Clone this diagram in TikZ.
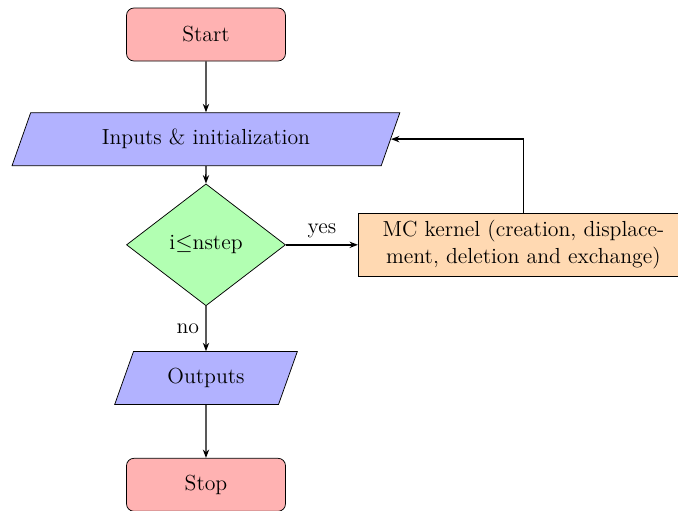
\documentclass[tikz,border=0pt]{standalone}
\usepackage{amsmath,amssymb}
\usepackage{tikz}
\usetikzlibrary{positioning,arrows.meta,shapes.geometric}

\begin{document}
\begin{tikzpicture}[font=\fontsize{11.7}{14.4}\selectfont,node distance=1cm,
      term/.style={draw,fill=red!30,rounded corners,minimum width=3cm,minimum height=1cm},
      io/.style={trapezium,trapezium left angle=70,trapezium right angle=110,
                 trapezium stretches=true,draw,fill=blue!30,minimum height=1cm},
      cond/.style={diamond,draw,fill=green!30,minimum width=3cm,minimum height=2.3cm},
      proc/.style={draw,fill=orange!30,minimum width=6.23cm,minimum height=1.2cm,align=center},
      arr/.style={thick,-{Stealth[length=4.5pt]}}]
    \useasboundingbox (-3.887,0.651) rectangle (8.906,-8.99);
    \node[term] (start) {Start};
    \node[io,minimum width=7.32cm,below=0.96cm of start] (in) {Inputs \& initialization};
    \node[cond,below=0.33cm of in] (test) {i$\leq$nstep};
    \node[proc,right=1.36cm of test] (mc)
      {MC kernel (creation, displace-\\ment, deletion and exchange)};
    \node[io,minimum width=3.47cm,below=0.85cm of test] (out) {Outputs};
    \node[term,below=1cm of out] (stop) {Stop};
    \draw[arr] (start) -- (in);
    \draw[arr] (in) -- (test);
    \draw[arr] (test) -- node[above] {yes} (mc);
    \draw[arr] (mc.north) |- (in.east);
    \draw[arr] (test) -- node[left] {no} (out);
    \draw[arr] (out) -- (stop);
  \end{tikzpicture}
\end{document}
